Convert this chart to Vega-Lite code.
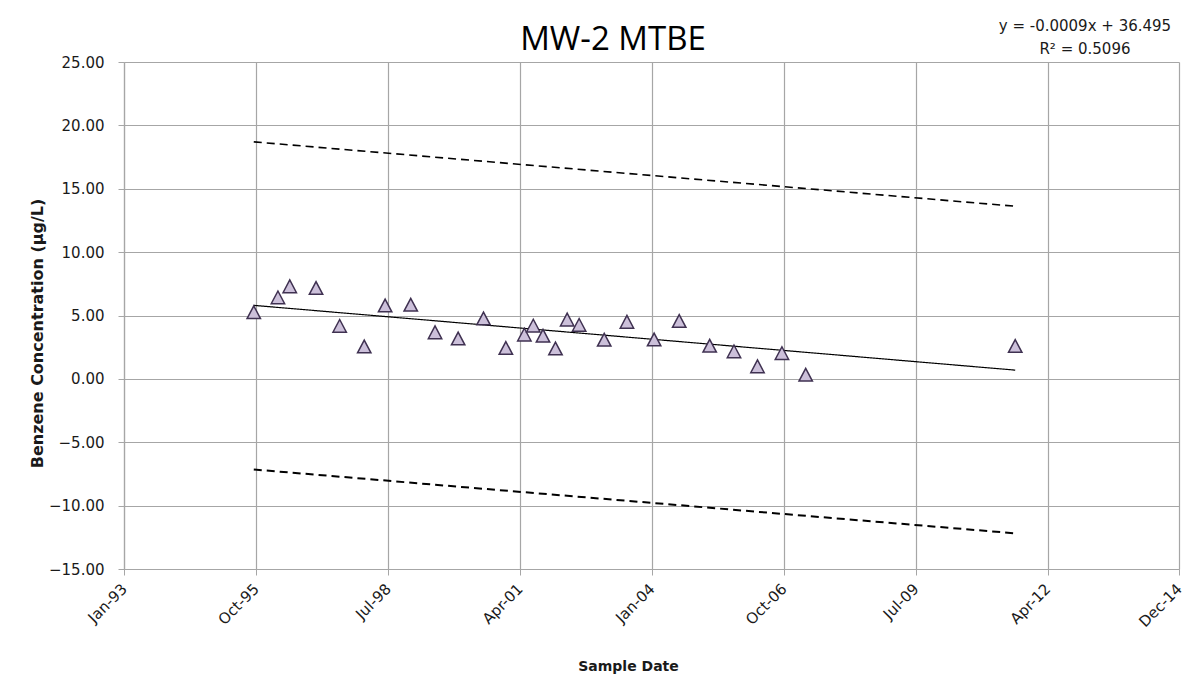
{
  "$schema": "https://vega.github.io/schema/vega-lite/v6.json",
  "width": 1055,
  "height": 507,
  "autosize": {"type": "none"},
  "padding": {"left": 124, "top": 62, "right": 24, "bottom": 113},
  "background": "white",
  "config": {
    "view": {"stroke": null},
    "font": "DejaVu Sans",
    "axis": {
      "gridColor": "#a6a6a6",
      "gridWidth": 1.2,
      "domainColor": "#a6a6a6",
      "domainWidth": 1.2,
      "tickColor": "#a6a6a6",
      "tickSize": 6,
      "labelFont": "DejaVu Sans",
      "labelFontSize": 15,
      "labelColor": "#1a1a1a",
      "titleFont": "DejaVu Sans",
      "titleFontSize": 14,
      "titleFontWeight": "bold",
      "titleColor": "#1a1a1a"
    }
  },
  "datasets": {
    "points": [
      {"date": "1995-09-16", "value": 5.26},
      {"date": "1996-03-18", "value": 6.43},
      {"date": "1996-06-16", "value": 7.30},
      {"date": "1997-01-02", "value": 7.17},
      {"date": "1997-07-01", "value": 4.18},
      {"date": "1998-01-04", "value": 2.56},
      {"date": "1998-06-12", "value": 5.79},
      {"date": "1998-12-24", "value": 5.85},
      {"date": "1999-06-27", "value": 3.67},
      {"date": "1999-12-20", "value": 3.19},
      {"date": "2000-06-30", "value": 4.77},
      {"date": "2000-12-17", "value": 2.44},
      {"date": "2001-05-07", "value": 3.49},
      {"date": "2001-07-14", "value": 4.20},
      {"date": "2001-09-26", "value": 3.41},
      {"date": "2001-12-30", "value": 2.40},
      {"date": "2002-03-29", "value": 4.68},
      {"date": "2002-06-28", "value": 4.26},
      {"date": "2003-01-05", "value": 3.09},
      {"date": "2003-06-27", "value": 4.50},
      {"date": "2004-01-20", "value": 3.11},
      {"date": "2004-07-29", "value": 4.57},
      {"date": "2005-03-18", "value": 2.62},
      {"date": "2005-09-19", "value": 2.17},
      {"date": "2006-03-17", "value": 0.99},
      {"date": "2006-09-19", "value": 2.03},
      {"date": "2007-03-19", "value": 0.33},
      {"date": "2011-07-31", "value": 2.60}
    ],
    "lines": [
      {"series": "trend", "date": "1995-09-16", "value": 5.80},
      {"series": "trend", "date": "2011-07-31", "value": 0.69},
      {"series": "upper", "date": "1995-09-16", "value": 18.70},
      {"series": "upper", "date": "2011-07-31", "value": 13.62},
      {"series": "lower", "date": "1995-09-16", "value": -7.15},
      {"series": "lower", "date": "2011-07-31", "value": -12.19}
    ]
  },
  "layer": [
    {
      "data": {"name": "lines"},
      "mark": {"type": "line", "color": "#000000"},
      "encoding": {
        "x": {
          "field": "date",
          "type": "temporal",
          "scale": {"domain": [{"year": 1993, "month": 1, "date": 1}, {"year": 2014, "month": 12, "date": 29}]},
          "axis": {
            "title": "Sample Date",
            "format": "%b-%y",
            "labelAngle": -45,
            "labelAlign": "right",
            "labelBaseline": "middle",
            "labelPadding": 11,
            "values": [
              {"year": 1993, "month": 1, "date": 1},
              {"year": 1995, "month": 10, "date": 3},
              {"year": 1998, "month": 7, "date": 4},
              {"year": 2001, "month": 4, "date": 1},
              {"year": 2004, "month": 1, "date": 1},
              {"year": 2006, "month": 10, "date": 2},
              {"year": 2009, "month": 7, "date": 3},
              {"year": 2012, "month": 4, "date": 2},
              {"year": 2014, "month": 12, "date": 29}
            ],
            "titleX": 504,
            "titleY": 97,
            "titleBaseline": "middle",
            "titleAlign": "center"
          }
        },
        "y": {
          "field": "value",
          "type": "quantitative",
          "scale": {"domain": [-15, 25], "nice": false, "zero": false},
          "axis": {
            "title": "Benzene Concentration (µg/L)",
            "titleFontSize": 16,
            "format": ".2f",
            "values": [-15, -10, -5, 0, 5, 10, 15, 20, 25],
            "labelPadding": 14,
            "titleAngle": -90,
            "titleX": -87,
            "titleY": 271,
            "titleBaseline": "middle",
            "titleAlign": "center"
          }
        },
        "detail": {"field": "series"},
        "strokeDash": {
          "field": "series",
          "type": "nominal",
          "scale": {"domain": ["trend", "upper", "lower"], "range": [[1, 0], [8, 5], [8, 5]]},
          "legend": null
        },
        "strokeWidth": {
          "field": "series",
          "type": "nominal",
          "scale": {"domain": ["trend", "upper", "lower"], "range": [1.2, 2, 2]},
          "legend": null
        }
      }
    },
    {
      "data": {"name": "points"},
      "mark": {
        "type": "point",
        "shape": "M-1,0.95L1,0.95L0,-0.95Z",
        "size": 180,
        "filled": true,
        "fill": "#ccc0da",
        "stroke": "#3f3151",
        "strokeWidth": 1.5,
        "opacity": 1
      },
      "encoding": {
        "x": {"field": "date", "type": "temporal"},
        "y": {"field": "value", "type": "quantitative"}
      }
    },
    {
      "data": {"values": [{}]},
      "mark": {
        "type": "text",
        "font": "Open Sans",
        "fontSize": 33,
        "color": "#000000",
        "align": "center",
        "baseline": "alphabetic"
      },
      "encoding": {
        "x": {"datum": {"year": 2003, "month": 3, "date": 13}, "type": "temporal"},
        "y": {"datum": 25.92, "type": "quantitative"},
        "text": {"value": "MW-2 MTBE"}
      }
    },
    {
      "data": {"values": [{}]},
      "mark": {
        "type": "text",
        "font": "DejaVu Sans",
        "fontSize": 15,
        "color": "#1a1a1a",
        "align": "center",
        "baseline": "middle",
        "lineHeight": 23
      },
      "encoding": {
        "x": {"datum": {"year": 2013, "month": 1, "date": 12}, "type": "temporal"},
        "y": {"datum": 27.82, "type": "quantitative"},
        "text": {"value": ["y = -0.0009x + 36.495", "R² = 0.5096"]}
      }
    }
  ]
}
